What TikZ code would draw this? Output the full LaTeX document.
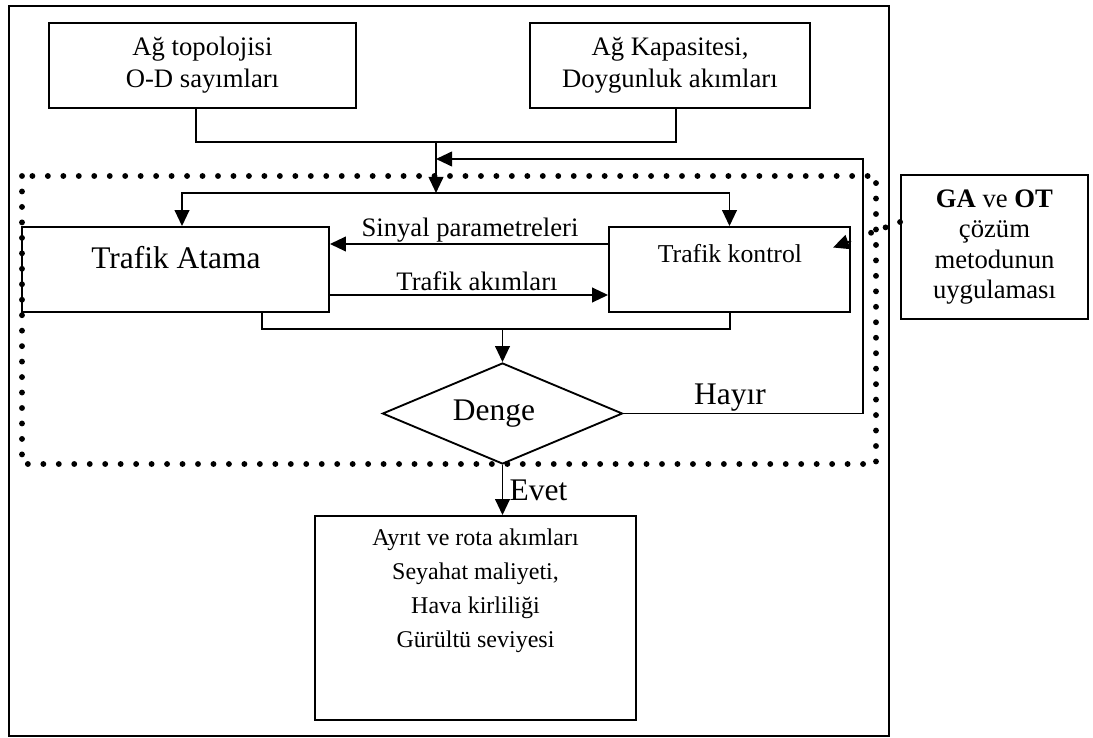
\documentclass[tikz,border=0pt]{standalone}
\usepackage{fontspec}
\setmainfont{Liberation Serif}
\usetikzlibrary{arrows.meta,shapes.geometric}
\tikzset{
  box/.style={draw, line width=1.4pt, inner sep=0pt, align=center, font=\fontsize{20}{24}\selectfont},
  ln/.style={line width=1.4pt},
  arr/.style={line width=1.4pt, -{Triangle[length=12pt,width=11pt]}},
  dotln/.style={line width=4.4pt, line cap=round, dash pattern=on 0pt off 11.6pt},
  lbl/.style={inner sep=0pt, font=\fontsize{20}{24}\selectfont},
  big/.style={inner sep=0pt, font=\fontsize{23.6}{28}\selectfont}
}
\begin{document}
\begin{tikzpicture}[x=0.75pt, y=-0.75pt]
\useasboundingbox (0,0) rectangle (1093,738);
% outer frame
\draw[line width=1.3pt] (9,6) rectangle (889,736);
% dotted region
\draw[dotln] (22,176) rectangle (876,464);

% boxes
\node[box, minimum width=230.25pt, minimum height=63.75pt] (box1) at (202.5,65.5) {Ağ topolojisi\\O-D sayımları};
\node[box, minimum width=210pt, minimum height=63.75pt] (box2) at (670,65.5) {Ağ Kapasitesi,\\Doygunluk akımları};
\node[box, minimum width=230.25pt, minimum height=63.75pt] (atama) at (175.5,269.5) {};
\node[big] (atamat) at (176,258) {Trafik Atama};
\node[box, minimum width=180.75pt, minimum height=63.75pt] (kontrol) at (729.5,269.5) {};
\node[lbl, font=\fontsize{19.3}{23}\selectfont] (kontrolt) at (730,254) {Trafik kontrol};
\node[draw, line width=1.4pt, diamond, inner sep=0pt, minimum width=180pt, minimum height=75.75pt, shape aspect=2.38] (dia) at (502.5,413.5) {};
\node[big] (diat) at (494,414) {Denge};
\node[box, minimum width=240.75pt, minimum height=153pt] (res) at (475.5,618) {};
\node[inner sep=0pt, align=center, font=\fontsize{18}{25.5}\selectfont] (rest) at (475.5,591) {Ayrıt ve rota akımları\\Seyahat maliyeti,\\Hava kirliliği\\Gürültü seviyesi};
\node[box, minimum width=140.25pt, minimum height=108pt, font=\fontsize{20}{22.7}\selectfont] (ga) at (994.5,247) {\textbf{GA} ve \textbf{OT}\\çözüm\\metodunun\\uygulaması};

% top merge
\coordinate (m1) at (436,142);
\coordinate (d) at (436,193);
\draw[ln] (box1.south -| 196,0) |- (m1);
\draw[ln] (box2.south -| 676,0) |- (m1);
\draw[arr] (m1) -- (d);
\draw[arr] (d) -| (atama.north -| 182,0);
\draw[arr] (d) -| (kontrol.north);

% feedback
\coordinate (fbtop) at (863,159);
\draw[arr] (dia.east) -| (fbtop) -- (fbtop -| m1);
\node[big] (hayir) at (730,398) {Hayır};

% between boxes
\draw[arr] (kontrol.west |- 0,244) -- (atama.east |- 0,244);
\node[lbl] (sinyal) at (470,230) {Sinyal parametreleri};
\draw[arr] (atama.east |- 0,295) -- (kontrol.west |- 0,295);
\node[lbl] (akim) at (477,281) {Trafik akımları};

% bottom collector
\coordinate (c) at (502.5,329);
\draw[ln] (atama.south -| 262,0) |- (c);
\draw[ln] (kontrol.south -| 730,0) |- (c);
\draw[arr] (c) -- (dia.north);

% evet
\draw[arr] (dia.south) -- (res.north -| dia.south);
\node[big] (evet) at (538.5,490) {Evet};

% GA dotted connector
\coordinate (gd) at (857,238);
\coordinate (gtip) at (833,247.5);
\draw[dotln] (ga.west |- 0,222) -- (gd);
\draw[arr] (851,241) -- (gtip);
\end{tikzpicture}
\end{document}
